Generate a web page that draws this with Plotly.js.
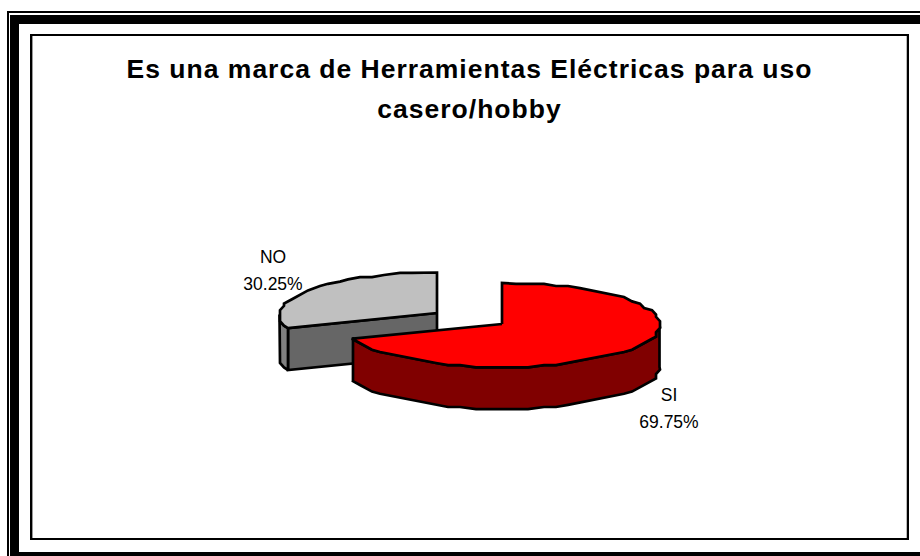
<!DOCTYPE html>
<html>
<head>
<meta charset="utf-8">
<script src="https://cdn.plot.ly/plotly-3.0.1.min.js"></script>
<style>html,body{margin:0;padding:0;background:#fff;overflow:hidden}</style>
</head>
<body>
<div id="chart" style="width:920px;height:556px"></div>
<script>
var labels = ['SI', 'NO'];
var values = [69.75, 30.25];
var titleLines = ['Es una marca de Herramientas Eléctricas para uso', 'casero/hobby'];
var topColors = ['#ff0000', '#c0c0c0'];
var wallColors = ['#800000', '#808080'];
var cutColors = ['#800000', '#666666'];
var centersX = [502, 437];
var centersY = [325, 314.5];
var apexY = [324, 313];
var labelX = [669, 273];
var labelY = [409, 271];

var RX = 157.5, RY = 42, DEPTH = 42, STEP = 5, SNAP_X = 4, SNAP_Y = 2.2;
var FONT = 'Liberation Sans, Arial, sans-serif';

// the source picture has a slightly stepped outline: snap curve samples to a fine grid
function snap(v, g) { return Math.round(v / g) * g; }
function pt(i, deg, drop) {
  var a = deg * Math.PI / 180;
  return [centersX[i] + RX * Math.sin(a), centersY[i] - RY * Math.cos(a) + (drop || 0)];
}
function arc(i, from, to, drop) {
  var out = [pt(i, from, drop)], d = from + STEP;
  while (d < to) {
    var p = pt(i, d, drop);
    out.push([snap(p[0], SNAP_X), snap(p[1], SNAP_Y)]);
    d += STEP;
  }
  out.push(pt(i, to, drop));
  return out;
}
function poly(points, color) {
  return {
    type: 'scatter', mode: 'lines', fill: 'toself', fillcolor: color,
    x: points.map(function (p) { return p[0]; }),
    y: points.map(function (p) { return p[1]; }),
    line: { color: '#000', width: 2.7 }, hoverinfo: 'skip', showlegend: false
  };
}
var total = values[0] + values[1];
var split = values[0] / total * 360;
var traces = [];

// NO slice (behind): cut face, outer wall, top face
var apexNO = [centersX[1], apexY[1]];
var endNO = pt(1, split, 0);
traces.push(poly([apexNO, endNO, [endNO[0], endNO[1] + DEPTH], [apexNO[0], apexNO[1] + DEPTH], apexNO], cutColors[1]));
var wallNO = arc(1, split, 270, 0).concat(arc(1, split, 270, DEPTH).reverse());
wallNO.push(wallNO[0]);
traces.push(poly(wallNO, wallColors[1]));
var topNO = [apexNO].concat(arc(1, split, 360, 0));
topNO.push(apexNO);
traces.push(poly(topNO, topColors[1]));

// SI slice (front): outer wall, top face
var wallSI = arc(0, 90, split, 0).concat(arc(0, 90, split, DEPTH).reverse());
wallSI.push(wallSI[0]);
traces.push(poly(wallSI, wallColors[0]));
var apexSI = [centersX[0], apexY[0]];
var topSI = [apexSI].concat(arc(0, 0, split, 0));
topSI.push(apexSI);
traces.push(poly(topSI, topColors[0]));

// data labels
traces.push({
  type: 'scatter', mode: 'text', x: labelX, y: labelY,
  text: labels.map(function (l, i) {
    return '<span style="font-size:17.5px">' + l + '<br>' + values[i].toFixed(2) + '%</span>';
  }),
  textposition: 'middle center',
  textfont: { family: FONT, size: 21, color: '#000' },
  hoverinfo: 'skip', showlegend: false, cliponaxis: false
});

function rect(x0, y0, x1, y1, fill) {
  return { type: 'rect', layer: 'below', xref: 'x', yref: 'y', x0: x0, y0: y0, x1: x1, y1: y1,
           fillcolor: fill, line: { width: 0 } };
}
var shapes = [
  rect(7, 11, 921, 557, '#000'),
  rect(9, 13, 921, 557, '#fff'),
  rect(10, 15, 921, 557, '#000'),
  rect(19, 24, 921, 552, '#fff'),
  rect(30, 34, 909, 540, '#000'),
  rect(32, 36, 907, 538, '#fff'),
  rect(32, 36, 33, 538, '#999'),
  rect(906, 36, 907, 538, '#bbb')
];

var layout = {
  width: 920, height: 556, autosize: false,
  margin: { l: 0, r: 0, t: 0, b: 0, pad: 0 },
  paper_bgcolor: '#fff', plot_bgcolor: '#fff',
  showlegend: false,
  title: {
    text: titleLines.map(function (t) { return '<span style="font-size:26.5px;letter-spacing:1px"><b>' + t + '</b></span>'; }).join('<br>'),
    font: { family: FONT, size: 31, color: '#000' },
    x: 0.5103, xref: 'paper', xanchor: 'center',
    y: 0.86, yref: 'paper', yanchor: 'top'
  },
  xaxis: { range: [0, 920], visible: false, fixedrange: true },
  yaxis: { range: [556, 0], visible: false, fixedrange: true },
  shapes: shapes
};
Plotly.newPlot('chart', traces, layout, { displayModeBar: false, staticPlot: true });
</script>
</body>
</html>
